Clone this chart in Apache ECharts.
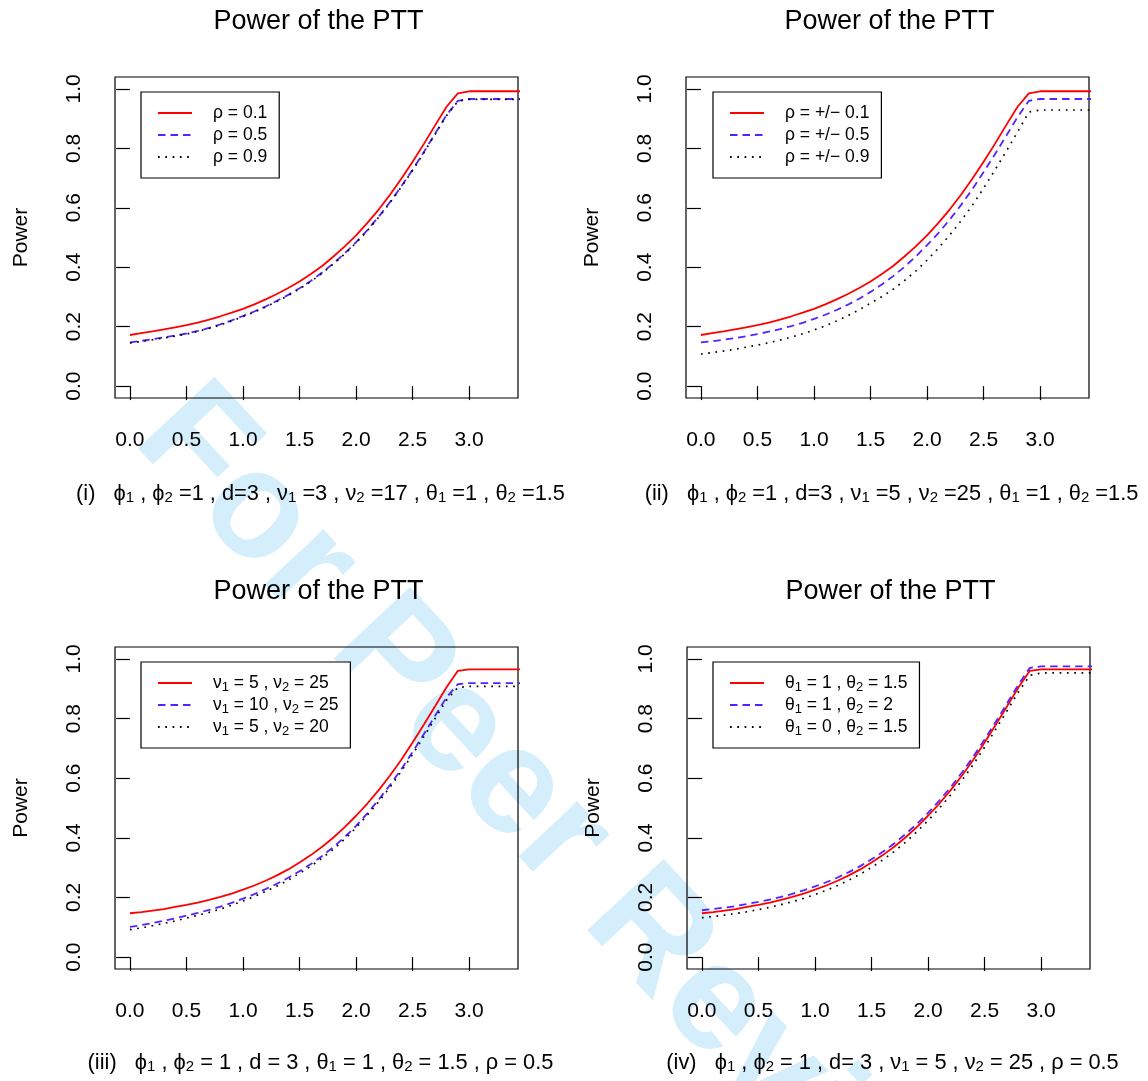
<!DOCTYPE html>
<html>
<head>
<meta charset="utf-8">
<script src="https://cdn.jsdelivr.net/npm/echarts@6/dist/echarts.min.js"></script>
<style>
html,body{margin:0;padding:0;background:#fff;}
#c{width:1148px;height:1081px;}
</style>
</head>
<body>
<div id="c"></div>
<script>
// ---------- data ----------
const xs = [0.0,0.1,0.2,0.3,0.4,0.5,0.6,0.7,0.8,0.9,1.0,1.1,1.2,1.3,1.4,1.5,1.6,1.7,1.8,1.9,2.0,2.1,2.2,2.3,2.4,2.5,2.6,2.7,2.8,2.9,3.0,3.1,3.2,3.3,3.4,3.5];
const xTickValues = [0,0.5,1.0,1.5,2.0,2.5,3.0];
const yTickValues = [0,0.2,0.4,0.6,0.8,1.0];

// panel (i)
const p1Red   = [.172,.178,.184,.191,.198,.205,.214,.224,.235,.247,.260,.275,.292,.310,.330,.352,.377,.404,.436,.470,.507,.549,.594,.644,.698,.755,.815,.878,.940,.985,.992,.992,.992,.992,.992,.992];
const p1Blue  = [.147,.152,.158,.164,.170,.177,.186,.196,.208,.221,.236,.251,.268,.287,.307,.329,.354,.382,.413,.447,.484,.525,.570,.619,.672,.728,.788,.850,.912,.960,.966,.966,.966,.966,.966,.966];
const p1Black = [.145,.150,.156,.162,.168,.175,.184,.194,.206,.219,.234,.249,.266,.285,.305,.327,.352,.380,.411,.445,.482,.523,.568,.617,.670,.726,.786,.848,.910,.958,.965,.965,.965,.965,.965,.965];
// panel (ii)
const p2Red   = [.172,.178,.184,.191,.198,.205,.214,.224,.235,.247,.260,.275,.292,.310,.330,.352,.377,.404,.436,.470,.507,.549,.594,.644,.698,.755,.815,.878,.940,.985,.992,.992,.992,.992,.992,.992];
const p2Blue  = [.147,.151,.156,.161,.168,.175,.183,.192,.202,.213,.226,.240,.256,.274,.294,.317,.342,.370,.401,.436,.474,.515,.560,.609,.662,.720,.780,.842,.905,.960,.966,.966,.966,.966,.966,.966];
const p2Black = [.108,.113,.118,.124,.131,.138,.146,.155,.165,.176,.189,.203,.219,.237,.257,.279,.301,.326,.355,.387,.424,.464,.508,.556,.608,.666,.727,.790,.855,.922,.929,.929,.929,.929,.929,.929];
// panel (iii)
const p3Red   = [.147,.151,.156,.161,.168,.175,.183,.192,.202,.213,.226,.240,.256,.274,.294,.317,.342,.370,.401,.436,.474,.515,.560,.609,.662,.720,.780,.842,.905,.960,.965,.965,.965,.965,.965,.965];
const p3Blue  = [.101,.107,.114,.122,.130,.139,.148,.158,.169,.182,.196,.211,.228,.246,.266,.288,.312,.339,.369,.403,.440,.482,.528,.577,.630,.688,.748,.810,.871,.915,.919,.919,.919,.919,.919,.919];
const p3Black = [.092,.098,.105,.113,.121,.131,.140,.150,.161,.174,.188,.203,.220,.238,.258,.281,.305,.332,.362,.396,.434,.476,.521,.570,.623,.680,.740,.801,.862,.904,.908,.908,.908,.908,.908,.908];
// panel (iv)
const p4Red   = [.147,.151,.156,.161,.168,.175,.183,.192,.202,.213,.226,.240,.256,.274,.294,.317,.342,.370,.401,.436,.474,.515,.560,.609,.662,.720,.780,.842,.905,.960,.965,.965,.965,.965,.965,.965];
const p4Blue  = [.157,.161,.166,.171,.178,.185,.193,.202,.212,.224,.237,.251,.267,.285,.305,.328,.353,.381,.412,.446,.484,.525,.570,.619,.672,.730,.790,.852,.915,.970,.975,.975,.975,.975,.975,.975];
const p4Black = [.132,.136,.141,.146,.152,.159,.167,.176,.186,.197,.210,.224,.240,.258,.278,.301,.326,.354,.385,.420,.458,.499,.544,.593,.646,.704,.765,.827,.890,.945,.953,.953,.953,.953,.953,.953];

const legend1 = ['ρ = 0.1','ρ = 0.5','ρ = 0.9'];
const legend2 = ['ρ = +/− 0.1','ρ = +/− 0.5','ρ = +/− 0.9'];
const legend3 = ['ν1 = 5 , ν2 = 25','ν1 = 10 , ν2 = 25','ν1 = 5 , ν2 = 20'];
const legend4 = ['θ1 = 1 , θ2 = 1.5','θ1 = 1 , θ2 = 2','θ1 = 0 , θ2 = 1.5'];

const titleText = 'Power of the PTT';
const yLabel = 'Power';
const watermarkText = 'For Peer Review';
const subs = [
  '(i)   ϕ{s|1} , ϕ{s|2} =1 , d=3 , ν{s|1} =3 , ν{s|2} =17 , θ{s|1} =1 , θ{s|2} =1.5',
  '(ii)   ϕ{s|1} , ϕ{s|2} =1 , d=3 , ν{s|1} =5 , ν{s|2} =25 , θ{s|1} =1 , θ{s|2} =1.5',
  '(iii)   ϕ{s|1} , ϕ{s|2} = 1 , d = 3 , θ{s|1} = 1 , θ{s|2} = 1.5 , ρ = 0.5',
  '(iv)   ϕ{s|1} , ϕ{s|2} = 1 , d= 3 , ν{s|1} = 5 , ν{s|2} = 25 , ρ = 0.5'
];

// ---------- layout ----------
const FONT = '"Liberation Sans", Arial, Helvetica, sans-serif';
const boxes = [
  {left:115, top:77,  width:403, height:321},
  {left:686, top:77,  width:403, height:321},
  {left:115, top:647, width:403, height:322},
  {left:687, top:647, width:403, height:322}
];
const legendPos = [
  {left:141, top:92},
  {left:713, top:92},
  {left:141, top:662},
  {left:713, top:662}
];
const panelData = [
  [p1Red,p1Blue,p1Black],
  [p2Red,p2Blue,p2Black],
  [p3Red,p3Blue,p3Black],
  [p4Red,p4Blue,p4Black]
];
const legendNames = [legend1,legend2,legend3,legend4];
const styles = [
  {color:'#ff0000', width:1.8, type:'solid'},
  {color:'#5522ff', width:1.8, type:[7.5,5]},
  {color:'#000000', width:1.7, type:[1.7,5.6]}
];
const subRich = {s:{fontSize:15, lineHeight:15, verticalAlign:'bottom', fontFamily:FONT, color:'#000'}};
const legRich = {s:{fontSize:13, lineHeight:13, verticalAlign:'bottom', fontFamily:FONT, color:'#000'}};

const grids=[], xAxes=[], yAxes=[], series=[], legends=[], graphics=[];

// watermark
graphics.push({
  type:'text', x:106, y:464, rotation:-47*Math.PI/180, z:-10, silent:true,
  style:{text:watermarkText, fontSize:152, fontWeight:'bold', fontFamily:FONT, fill:'#d4eefb', textVerticalAlign:'bottom'}
});

boxes.forEach((b,i)=>{
  grids.push({left:b.left, top:b.top, width:b.width, height:b.height, show:true, borderColor:'#000', borderWidth:1.2, backgroundColor:'transparent', containLabel:false});
  xAxes.push({
    gridIndex:i, type:'value', min:-0.132, max:3.432,
    axisLine:{show:false}, splitLine:{show:false},
    axisTick:{show:true, length:14, customValues:xTickValues, lineStyle:{color:'#000', width:1.2}},
    axisLabel:{show:true, customValues:xTickValues, formatter:v=>v.toFixed(1), fontSize:21, color:'#000', fontFamily:FONT, margin:32},
    name:subs[i], nameLocation:'middle', nameGap:(i<2?84:82),
    nameTextStyle:{fontSize:21.8, lineHeight:23, color:'#000', fontFamily:FONT, padding:[0,0,0,8], rich:subRich}
  });
  yAxes.push({
    gridIndex:i, type:'value', min:-0.04, max:1.04,
    axisLine:{show:false}, splitLine:{show:false},
    axisTick:{show:true, length:14, customValues:yTickValues, lineStyle:{color:'#000', width:1.2}},
    axisLabel:{show:true, customValues:yTickValues, formatter:v=>v.toFixed(1), fontSize:21, color:'#000', fontFamily:FONT, rotate:90, margin:30},
    name:yLabel, nameLocation:'middle', nameGap:83, nameRotate:90,
    nameTextStyle:{fontSize:21, color:'#000', fontFamily:FONT}
  });
  panelData[i].forEach((arr,k)=>{
    series.push({
      type:'line', name:legendNames[i][k], xAxisIndex:i, yAxisIndex:i,
      data: xs.map((x,j)=>[x, arr[j]]),
      symbol:'none', showSymbol:false, smooth:false, clip:true, silent:true,
      lineStyle:{color:styles[k].color, width:styles[k].width, type:styles[k].type},
      itemStyle:{color:styles[k].color},
      emphasis:{disabled:true}, z:3+ (k===2?1:0)
    });
  });
  legends.push({
    left:legendPos[i].left, top:legendPos[i].top, orient:'vertical',
    data:legendNames[i], selectedMode:false,
    padding:[10,12,10,16], itemWidth:34, itemHeight:14, itemGap:0,
    borderColor:'#000', borderWidth:1.2, backgroundColor:'#fff',
    itemStyle:{opacity:0, borderWidth:0},
    formatter:n=>n.replace(/([νθ])([12])/g,'$1{s|$2}'),
    textStyle:{fontSize:17.5, lineHeight:22, color:'#000', fontFamily:FONT, padding:[0,0,0,16], rich:legRich}
  });
  graphics.push({
    type:'text', x:b.left+b.width/2+2, y:(i<2?22:592), silent:true,
    style:{text:titleText, fontSize:27, fontFamily:FONT, fill:'#000', textAlign:'center', textVerticalAlign:'middle'}
  });
});

const chart = echarts.init(document.getElementById('c'), null, {renderer:'canvas'});
chart.setOption({
  backgroundColor:'#fff',
  animation:false,
  grid:grids, xAxis:xAxes, yAxis:yAxes, series:series, legend:legends, graphic:graphics
});
</script>
</body>
</html>
